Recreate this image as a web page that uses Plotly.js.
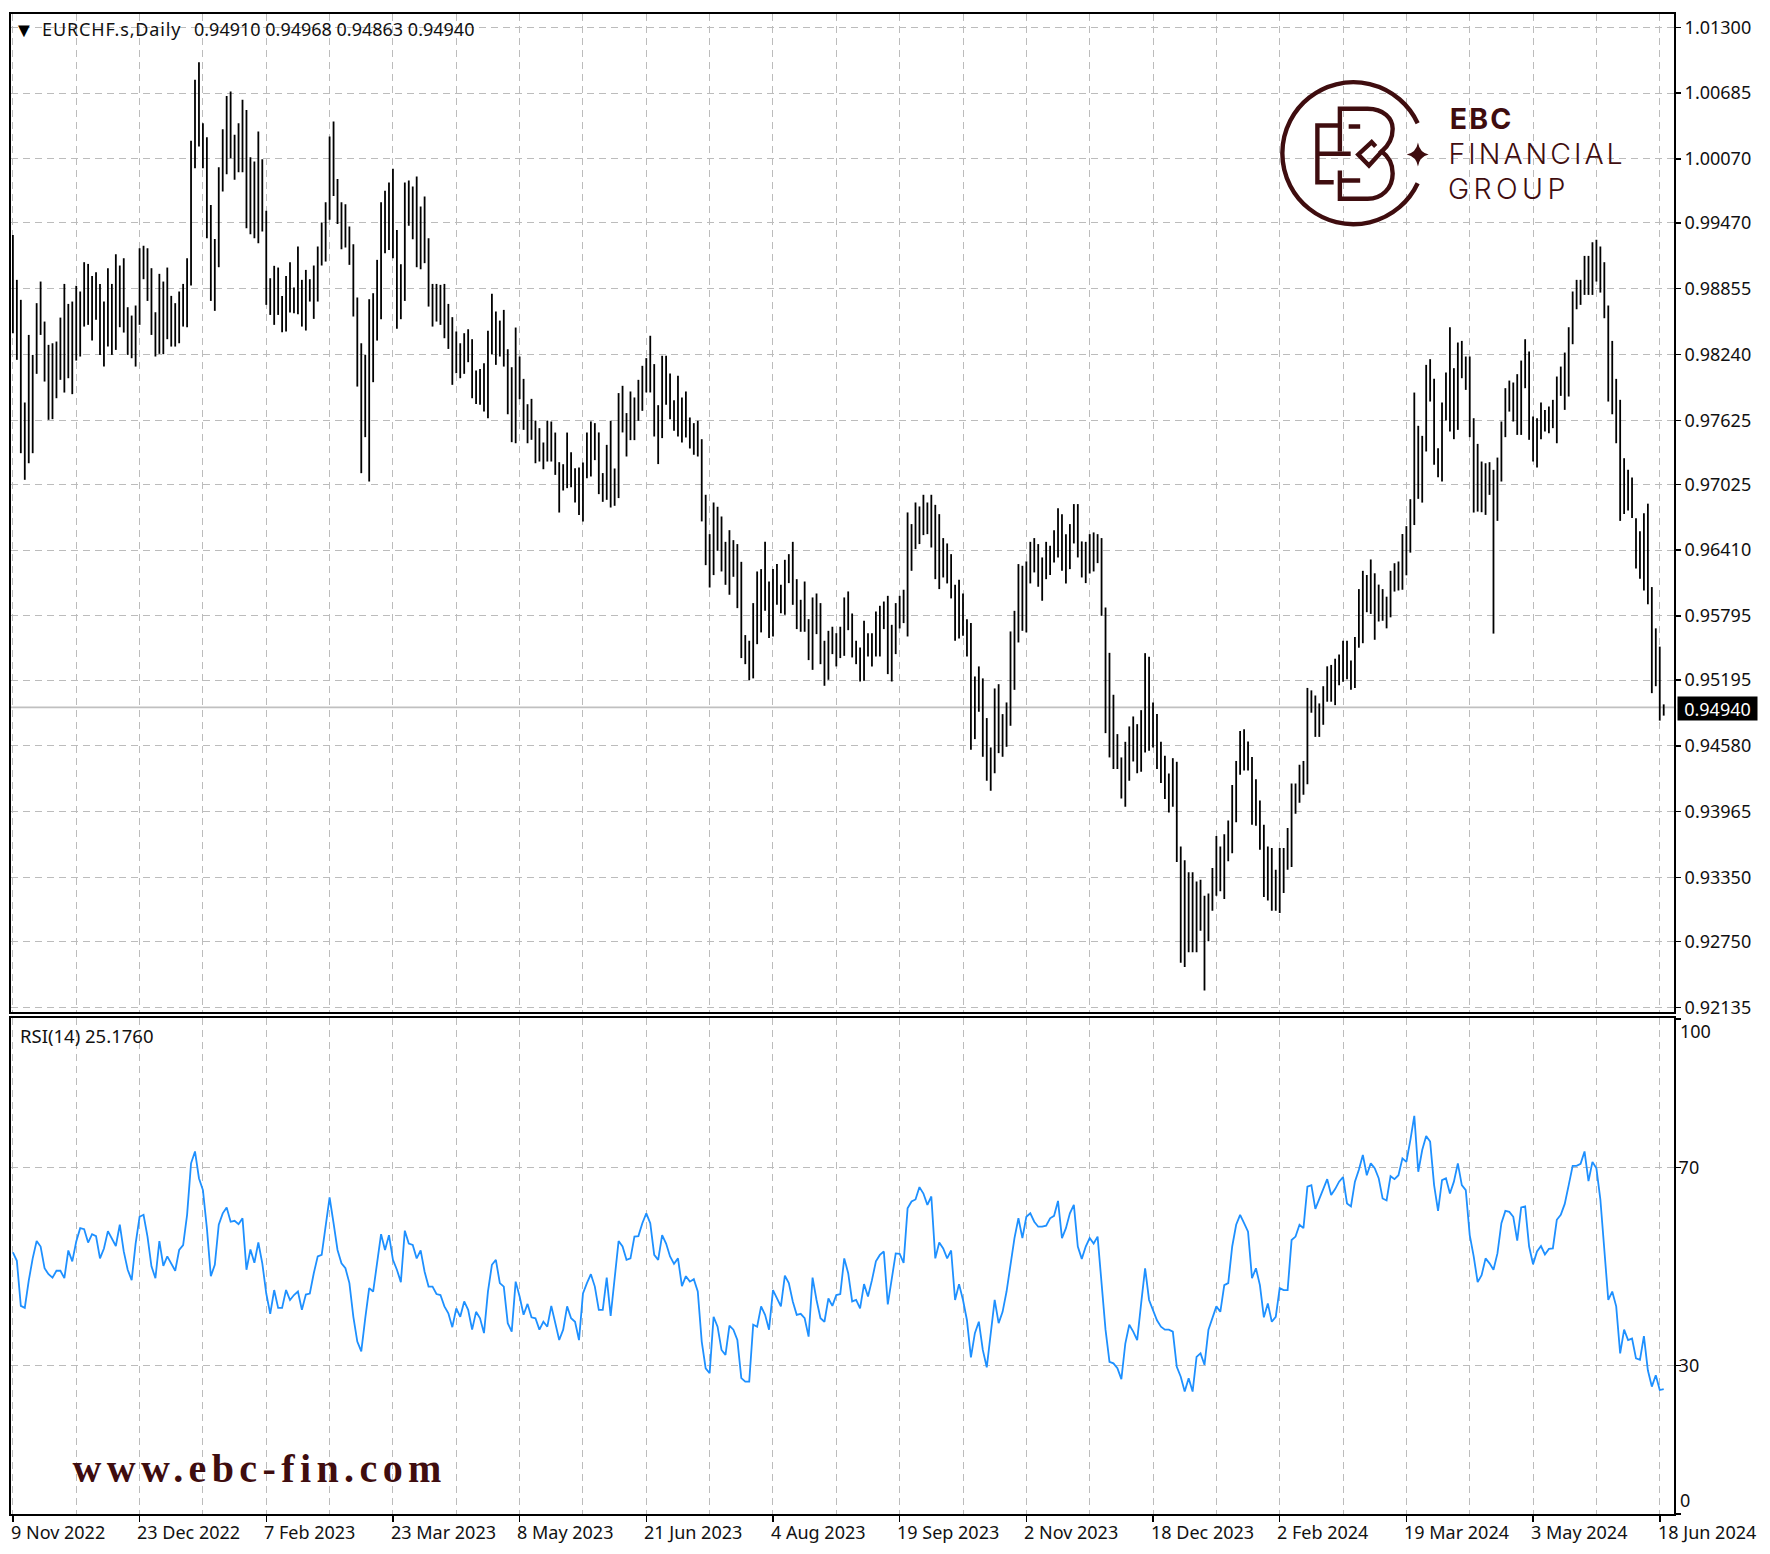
<!DOCTYPE html>
<html>
<head>
<meta charset="utf-8">
<script src="https://cdn.plot.ly/plotly-3.0.1.min.js"></script>
<style>
html,body{margin:0;padding:0;background:#fff;}
#chart{width:1770px;height:1554px;}
g.annotation[data-index="1"] text{letter-spacing:0.85px;}
g.annotation[data-index="3"] text{letter-spacing:2.2px;}
g.annotation[data-index="4"] text{letter-spacing:3px;}
g.annotation[data-index="5"] text{letter-spacing:4.4px;}
g.annotation[data-index="6"] text{letter-spacing:5.4px;}
</style>
</head>
<body>
<div id="chart"></div>
<script>
const highs = [
.99358,.98938,.98751,.97791,.98423,.98236,.98720,.98922,.98548,.98330,.98345,.98361,.98585,.98900,.98713,.98735,
.98882,.98829,.99103,.99087,.98975,.99009,.98900,.98735,.99047,.98900,.99178,.99072,.99140,.98682,.98604,.98698,
.99234,.99256,.99234,.99047,.98635,.98994,.98922,.99053,.98788,.98720,.98829,.98900,.99140,1.00238,1.00808,1.00973,
1.00403,1.00272,.99639,.99321,.99991,1.00347,1.00658,1.00699,1.00294,1.00403,1.00621,1.00527,1.00085,1.00044,1.00325,1.00066,
.99583,.98953,.99069,.99053,.98788,.98975,.99103,.98866,.99249,.98938,.99031,.98944,.99072,.99249,.99474,.99664,
1.00278,1.00418,.99882,.99664,.99645,.99436,.99271,.98773,.98345,.98236,.98757,.98813,.99125,.99664,.99770,.99848,
.99976,.99405,.99084,.99848,.99867,.99810,.99904,.99623,.99717,.99327,.98900,.98900,.98891,.98900,.98713,.98589,
.98455,.98345,.98439,.98476,.98383,.98090,.98105,.98158,.98461,.98807,.98642,.98557,.98657,.98289,.98121,.98492,
.98221,.98012,.97775,.97825,.97622,.97551,.97417,.97622,.97613,.97510,.97233,.97214,.97510,.97326,.97177,.97183,
.97230,.97510,.97614,.97598,.97511,.97131,.97395,.97620,.97174,.97879,.97947,.97692,.97894,.97838,.98003,.98134,
.98206,.98415,.98150,.97766,.98228,.98228,.98062,.97813,.98041,.97838,.97894,.97651,.97598,.97620,.97448,.96928,
.96560,.96856,.96816,.96725,.96488,.96597,.96504,.96467,.96301,.95616,.95563,.95915,.96211,.96233,.96488,.96117,
.96233,.96280,.96086,.96320,.96373,.96488,.96139,.95946,.96117,.95765,.95968,.96005,.95915,.95563,.95656,.95694,
.95634,.95694,.95968,.96024,.95818,.95563,.95500,.95750,.95634,.95634,.95837,.95890,.95930,.95983,.95712,.95915,
.95983,.96040,.96763,.96654,.96856,.96819,.96928,.96856,.96928,.96834,.96747,.96523,.96473,.96373,.96086,.96133,
.96005,.95765,.95728,.95229,.95323,.95211,.94840,.94565,.95117,.95157,.94877,.94986,.95650,.95843,.96280,.96264,
.96305,.96488,.96523,.96467,.96342,.96488,.96451,.96597,.96803,.96747,.96560,.96654,.96841,.96841,.96492,.96488,
.96560,.96576,.96560,.96523,.95874,.95450,.95058,.94690,.94472,.94618,.94762,.94855,.94783,.94914,.95447,.95413,
.94986,.94877,.94618,.94487,.94322,.94465,.94431,.93640,.93511,.93398,.93398,.93311,.93327,.93179,.93199,.93437,
.93737,.93640,.93753,.93881,.94213,.94439,.94719,.94735,.94622,.94477,.94268,.94068,.93843,.93640,.93624,.93421,
.93624,.93624,.93811,.94229,.94229,.94403,.94439,.95122,.95099,.95051,.94977,.95138,.95324,.95337,.95395,.95434,
.95563,.95563,.95379,.95598,.96046,.96217,.96178,.96323,.96194,.96088,.96046,.95975,.96217,.96288,.96304,.96561,
.96635,.96887,.97884,.97573,.97479,.98143,.98196,.98012,.97363,.97791,.98071,.98495,.98112,.98352,.98367,.98221,
.98221,.97644,.97404,.97239,.97223,.97233,.97161,.97276,.97613,.97925,.97996,.97978,.98056,.98183,.98383,.98268,
.97660,.97644,.97791,.97722,.97753,.97816,.98034,.98127,.98258,.98495,.98829,.98938,.98938,.99162,.99162,.99290,
.99312,.99249,.99103,.98698,.98367,.98012,.97816,.97270,.97161,.97089,.96709,.96587,.96755,.96845,.96065,.95679,
.95508,.94968
];
const lows = [
.98439,.98190,.97317,.97068,.97223,.97317,.98059,.98423,.97987,.97629,.97635,.97831,.98003,.97884,.98018,.97869,
.98183,.98221,.98501,.98517,.98370,.98564,.98236,.98127,.98314,.98236,.98283,.98495,.98445,.98236,.98205,.98127,
.98517,.98944,.98741,.98423,.98221,.98246,.98243,.98383,.98314,.98314,.98345,.98501,.98495,.98885,.99982,1.00185,
.99982,.99327,.98741,.98648,.99056,.99764,.99926,1.00075,.99873,.99944,.99944,.99421,.99365,.99327,.99281,.99390,
.98704,.98610,.98517,.98610,.98448,.98455,.98632,.98626,.98617,.98501,.98464,.98735,.98573,.98735,.99072,.99109,
.99499,.99723,.99461,.99224,.99240,.99078,.98595,.97940,.97130,.97467,.97052,.97981,.98370,.98570,.99187,.99218,
.99140,.98480,.98570,.98741,.99443,.99318,.99056,.99037,.99094,.98688,.98501,.98548,.98517,.98392,.98292,.97956,
.98065,.98018,.98059,.98168,.97831,.97778,.97769,.97706,.97644,.98243,.98143,.98221,.98127,.97681,.97420,.97410,
.97822,.97535,.97410,.97442,.97223,.97239,.97167,.97239,.97239,.97114,.96762,.96968,.96990,.96999,.96855,.96740,
.96678,.97083,.97099,.97252,.96934,.96862,.96881,.96809,.96825,.96897,.97511,.97286,.97439,.97439,.97620,.97713,
.97885,.97885,.97473,.97215,.97458,.97769,.97635,.97526,.97473,.97417,.97464,.97361,.97302,.97286,.96679,.96270,
.96061,.96177,.96404,.96211,.96086,.95993,.96161,.95868,.95401,.95344,.95195,.95211,.95531,.95641,.95843,.95588,
.95603,.95899,.95821,.95806,.96102,.95899,.95672,.95647,.95647,.95382,.95291,.95625,.95344,.95142,.95198,.95438,
.95323,.95401,.95422,.95662,.95407,.95344,.95182,.95189,.95416,.95323,.95416,.95416,.95672,.95251,.95182,.95438,
.95678,.95728,.95603,.96217,.96420,.96467,.96551,.96560,.96435,.96139,.96046,.96155,.96099,.95959,.95563,.95584,
.95609,.95416,.94543,.94643,.94899,.94478,.94254,.94160,.94325,.94512,.94478,.94571,.94768,.95104,.95547,.95656,
.95641,.96099,.96202,.96068,.95937,.96139,.96177,.96295,.96342,.96217,.96099,.96233,.96473,.96342,.96155,.96102,
.96192,.96211,.96289,.95796,.94699,.94472,.94363,.94363,.94088,.94010,.94254,.94434,.94325,.94338,.94518,.94534,
.94565,.94363,.94232,.94082,.93957,.94010,.93495,.92551,.92513,.92651,.92651,.92651,.92851,.92293,.92754,.93038,
.93179,.93221,.93147,.93501,.93575,.93865,.94310,.94349,.94349,.93843,.93833,.93608,.93166,.93134,.93038,.93038,
.93018,.93205,.93421,.93447,.93946,.94049,.94123,.94220,.94890,.94664,.94664,.94777,.94993,.94993,.94961,.95147,
.95180,.95202,.95105,.95122,.95498,.95540,.95830,.95814,.95572,.95743,.95750,.95679,.95782,.96023,.96033,.96040,
.96175,.96387,.96645,.96890,.96855,.97333,.97800,.97208,.97092,.97052,.97622,.97519,.97448,.97535,.98018,.97909,
.97467,.96762,.96771,.96765,.96740,.96927,.95630,.96684,.97052,.97467,.97706,.97613,.97488,.97488,.97925,.97442,
.97239,.97183,.97448,.97519,.97504,.97551,.97410,.97853,.97722,.97847,.98336,.98663,.98704,.98797,.98797,.98797,
.98922,.98819,.98579,.97800,.97681,.97410,.96684,.96748,.96780,.96710,.96239,.96143,.96033,.95904,.95073,.95138,
.94816,.94863
];
const rsi = [
52.8,51.1,42.0,41.6,47.1,51.6,55.1,54.0,49.6,48.4,47.7,49.1,49.1,47.6,53.2,51.0,
55.0,57.7,57.5,54.8,56.5,56.1,51.6,53.6,57.1,55.7,54.1,58.4,53.0,49.3,47.2,54.6,
60.0,60.4,56.0,50.0,47.6,55.1,50.1,52.0,50.5,49.1,53.3,54.3,60.4,70.8,73.2,67.8,
65.4,57.7,48.0,50.3,58.4,60.7,61.9,59.0,59.2,58.5,59.7,49.3,53.4,50.7,54.8,50.6,
44.5,40.4,45.2,41.6,41.6,45.2,43.2,44.2,44.9,41.2,44.3,44.5,48.6,52.0,52.3,58.4,
63.9,58.7,53.3,50.6,49.6,46.6,39.8,34.8,32.8,39.5,45.6,44.9,50.3,56.5,53.3,56.3,
51.3,49.3,46.8,57.2,54.6,54.3,51.6,53.2,48.9,45.9,45.9,44.4,44.2,41.9,40.5,37.7,
41.5,39.8,42.9,41.2,37.2,40.8,39.5,36.5,44.9,50.3,51.3,46.6,45.9,38.5,36.8,46.9,
43.9,40.2,42.4,39.7,39.5,37.2,38.8,37.8,42.0,38.5,35.1,37.2,41.9,39.5,38.8,35.1,
44.5,46.6,48.4,45.9,41.2,41.2,47.7,40.0,47.2,55.1,54.0,51.3,51.6,56.0,56.1,58.7,
60.7,58.7,52.3,51.3,56.3,54.6,52.0,50.5,51.6,46.0,48.0,46.9,47.4,44.9,34.8,29.4,
28.4,39.8,37.8,33.1,32.1,38.0,37.2,35.1,27.4,26.7,26.7,38.2,37.8,41.9,40.2,37.2,
45.2,43.7,41.9,48.1,46.6,42.9,40.2,40.4,39.5,35.8,47.7,43.2,39.5,38.8,43.5,42.0,
44.2,44.4,51.6,48.6,42.9,43.2,41.5,46.4,43.9,47.2,51.0,52.3,53.0,42.3,47.9,52.6,
52.5,50.7,61.7,63.1,63.5,66.0,64.7,62.4,64.1,51.6,54.8,53.6,51.6,53.2,43.2,46.4,
43.2,39.1,31.6,36.5,38.8,33.1,29.6,36.8,43.2,38.5,40.8,44.9,50.3,55.7,59.7,55.7,
60.0,60.7,59.0,58.0,58.0,58.2,59.7,60.2,63.2,55.7,57.7,60.7,62.4,54.0,51.5,54.0,
55.7,54.6,56.0,47.2,37.2,30.7,30.4,29.4,27.2,34.4,38.2,36.8,35.1,42.5,49.6,43.2,
41.2,39.1,37.8,37.2,37.2,36.8,29.7,27.7,24.7,27.4,24.7,31.7,32.4,30.1,37.2,39.8,
41.9,40.8,46.2,46.6,54.0,58.4,60.4,58.7,57.0,47.6,49.6,46.2,39.7,42.5,38.8,39.8,
45.6,45.2,45.2,55.3,56.0,58.4,57.7,66.1,66.4,61.6,63.7,65.4,67.6,64.4,65.6,67.1,
68.0,62.7,62.1,67.1,69.5,72.5,68.4,70.8,69.8,67.8,63.7,63.3,68.2,67.6,68.4,71.8,
71.1,75.5,80.4,69.1,73.5,76.3,75.2,66.4,61.2,67.4,67.8,64.7,67.1,70.8,66.4,65.4,
56.3,52.0,46.8,48.2,51.6,50.6,49.3,52.6,58.7,61.2,61.0,60.0,55.2,61.9,62.1,54.0,
50.4,53.0,54.1,52.4,53.5,53.6,59.4,60.4,62.6,66.4,70.3,70.3,70.7,73.2,67.2,71.1,
69.8,63.5,52.6,43.2,44.9,41.9,32.4,37.2,35.1,35.4,31.4,31.1,35.9,29.0,25.7,28.0,
25.0,25.18
];
const lastClose = 0.94940;
const dateLabels = ["9 Nov 2022","23 Dec 2022","7 Feb 2023","23 Mar 2023","8 May 2023","21 Jun 2023","4 Aug 2023","19 Sep 2023","2 Nov 2023","18 Dec 2023","2 Feb 2024","19 Mar 2024","3 May 2024","18 Jun 2024"];
const priceTicks = [1.01300,1.00685,1.00070,0.99470,0.98855,0.98240,0.97625,0.97025,0.96410,0.95795,0.95195,0.94580,0.93965,0.93350,0.92750,0.92135];
const rsiTicks = [70,30];

const W=1770,H=1554,L=11,R=1674.4,T=14,B=1514,mainBottom=1011.5,rsiTop=1018;
const px=x=>(x-L)/(R-L), py=y=>(B-y)/(B-T);
const n=highs.length, xs=highs.map((_,i)=>i);
const labelIdx=dateLabels.map((_,i)=>i*32);
const gridIdx=[];for(let i=16;i<=416;i+=32)gridIdx.push(i);
const uiFont='"Noto Sans", Tahoma, sans-serif';
const maroon='#3f0d0f';
const grid='#bcbcbc';
const dash='7px,5px';

const traces=[
 {type:'ohlc',x:xs,open:lows,high:highs,low:lows,close:highs,xaxis:'x2',yaxis:'y2',tickwidth:0,
  increasing:{line:{color:'#000',width:1.8}},decreasing:{line:{color:'#000',width:1.8}},hoverinfo:'skip',showlegend:false},
 {type:'scatter',mode:'lines',x:xs,y:rsi,xaxis:'x',yaxis:'y',line:{color:'#1e90ff',width:1.8},hoverinfo:'skip',showlegend:false}
];
const xBase={range:[-0.48,419.6],showline:true,mirror:true,linecolor:'#000',linewidth:2,zeroline:false,
 tickmode:'array',tickvals:labelIdx,showgrid:true,gridcolor:grid,griddash:dash,gridwidth:1,
 minor:{tickmode:'array',tickvals:gridIdx,showgrid:true,gridcolor:grid,griddash:dash,gridwidth:1,ticks:''},
 rangeslider:{visible:false}};
const yBase={side:'right',showline:true,mirror:true,linecolor:'#000',linewidth:2,zeroline:false,
 ticks:'outside',ticklen:5,tickcolor:'#000',tickwidth:1.5,showgrid:true,gridcolor:grid,griddash:dash,gridwidth:1,
 tickfont:{family:uiFont,size:18,color:'#111'}};

const annotations=[
 {text:'▼',x:px(24),y:py(29),xanchor:'center',font:{size:20,color:'#000'}},
 {text:'EURCHF.s,Daily',x:px(45.8),y:py(29.5),xanchor:'left',font:{size:18}},
 {text:'0.94910 0.94968 0.94863 0.94940',x:px(192),y:py(29.5),xanchor:'left',font:{size:18}},
 {text:'<b>EBC</b>',x:px(1451),y:py(118),xanchor:'left',font:{family:'Inter, Lato, sans-serif',size:28.5,color:maroon}},
 {text:'FINANCIAL',x:px(1460.5),y:py(153.2),xanchor:'left',font:{family:'Inter, Lato, sans-serif',size:28.5,color:maroon,weight:300}},
 {text:'GROUP',x:px(1457),y:py(188.4),xanchor:'left',font:{family:'Inter, Lato, sans-serif',size:28.5,color:maroon,weight:300}},
 {text:'<b>www.ebc-fin.com</b>',x:px(111.4),y:py(1468.6),xanchor:'left',font:{family:'"Liberation Serif", serif',size:40,color:maroon}},
 {text:'RSI(14) 25.1760',x:px(18),y:py(1035),xanchor:'left',font:{size:18.5}},
 {text:'100',x:px(1678),y:py(1030.5),xanchor:'left',font:{size:18}},
 {text:'0',x:px(1678),y:py(1500),xanchor:'left',font:{size:18}},
 {text:lastClose.toFixed(5),x:px(1717.7),y:py(708.5),xanchor:'center',bgcolor:'#000',font:{size:18,color:'#fff'},width:79,height:23,borderpad:0},
 ...dateLabels.map((d,i)=>({text:d,x:px(12.6+3.96*labelIdx[i]-4),y:py(1531.6),xanchor:'left',font:{size:18}}))
].map(a=>Object.assign({xref:'paper',yref:'paper',showarrow:false,yanchor:'middle'},a,{font:Object.assign({family:uiFont,color:'#111'},a.font)}));

const logo=`<svg xmlns="http://www.w3.org/2000/svg" width="155" height="155" viewBox="0 0 155 155">
<g fill="none" stroke="${maroon}" stroke-width="4.4">
<path d="M142 46.7 A71 71 0 1 0 142 106.7"/>
<path d="M64.2 75 V32.3 H92 C108 32.3 117 42 117 52.3 C117 62 112 70 106 75 C113 80 117 88 117 97 C117 112 106 122.3 92 122.3 H64.2 V94"/>
<path d="M64.2 49 H41.7 V105.7 H58"/><path d="M41.7 77.3 H75"/><path d="M73 50 H84.5"/><path d="M65.4 104 H84.5"/>
<path d="M100 70 L96 65.7 L82.6 78 L93.3 89 L107 74"/>
</g>
<path fill="${maroon}" d="M142.3 66 Q144 76 153 78 Q144 80 142.3 90 Q140.6 80 131 78 Q140.6 76 142.3 66 Z"/>
</svg>`;

const layout={
 width:W,height:H,margin:{l:L,r:W-R,t:T,b:H-B,pad:0},paper_bgcolor:'#fff',plot_bgcolor:'#fff',showlegend:false,
 xaxis:Object.assign({},xBase,{anchor:'y',ticks:'outside',ticklen:6,tickcolor:'#000',tickwidth:1.5,showticklabels:false}),
 xaxis2:Object.assign({},xBase,{anchor:'y2',ticks:'',showticklabels:false,matches:'x'}),
 yaxis:Object.assign({},yBase,{domain:[0,py(rsiTop)],range:[-0.04,100.16],tickmode:'array',tickvals:[0,30,70,100],ticktext:['',String(rsiTicks[1]),String(rsiTicks[0]),''],ticklabelstandoff:-6}),
 yaxis2:Object.assign({},yBase,{domain:[py(mainBottom),1],range:[0.92096,1.01424],tickmode:'array',tickvals:priceTicks,ticktext:priceTicks.map(v=>v.toFixed(5))}),
 shapes:[{type:'line',xref:'paper',yref:'y2',x0:0,x1:1,y0:lastClose,y1:lastClose,line:{color:'#c0c0c0',width:1.6},layer:'below'}],
 annotations:annotations,
 images:[{source:'data:image/svg+xml;utf8,'+encodeURIComponent(logo),xref:'paper',yref:'paper',x:px(1276),y:py(76.5),sizex:155/(R-L),sizey:155/(B-T),sizing:'stretch',xanchor:'left',yanchor:'top',layer:'above'}]
};
Plotly.newPlot('chart',traces,layout,{displayModeBar:false,staticPlot:true});
</script>
</body>
</html>
